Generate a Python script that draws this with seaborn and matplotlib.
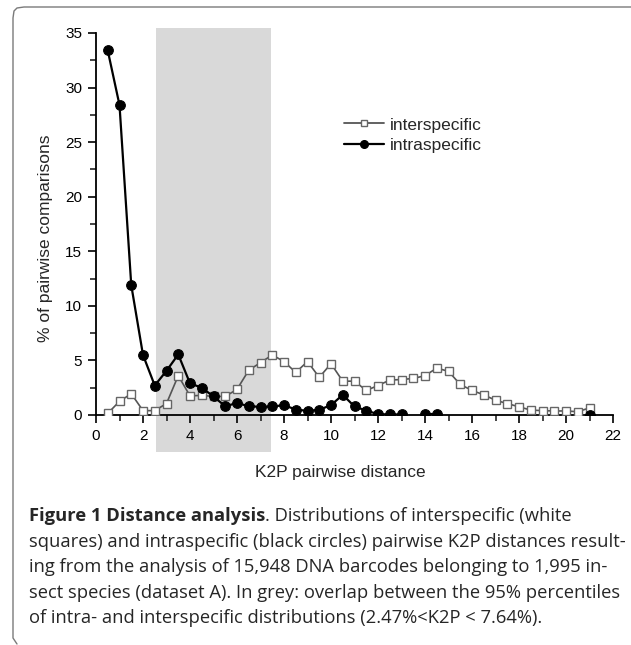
import numpy as np
import pandas as pd
import matplotlib
matplotlib.use("Agg")
import matplotlib.pyplot as plt
from matplotlib.lines import Line2D
from matplotlib.ticker import MultipleLocator
import seaborn as sns

# distances (K2P, %) and percentage of pairwise comparisons
inter_x = [0.5, 1.0, 1.5, 2.0, 2.5, 3.0, 3.5, 4.0, 4.5, 5.0, 5.5, 6.0, 6.5, 7.0,
           7.5, 8.0, 8.5, 9.0, 9.5, 10.0, 10.5, 11.0, 11.5, 12.0, 12.5, 13.0,
           13.5, 14.0, 14.5, 15.0, 15.5, 16.0, 16.5, 17.0, 17.5, 18.0, 18.5,
           19.0, 19.5, 20.0, 20.5, 21.0]
inter_y = [0.15, 1.25, 1.95, 0.4, 0.4, 1.05, 3.6, 1.75, 1.8, 1.7, 1.7, 2.35, 4.1, 4.8,
           5.5, 4.9, 3.9, 4.9, 3.45, 4.7, 3.1, 3.1, 2.25, 2.7, 3.2, 3.25,
           3.35, 3.6, 4.3, 4.0, 2.8, 2.25, 1.85, 1.35, 1.05, 0.75, 0.45,
           0.4, 0.37, 0.37, 0.3, 0.65]

intra_x = inter_x
intra_y = [33.4, 28.4, 11.9, 5.5, 2.7, 4.05, 5.55, 2.9, 2.5, 1.7, 0.8, 1.1, 0.8, 0.75,
           0.78, 0.9, 0.5, 0.38, 0.48, 0.9, 1.85, 0.78, 0.4, 0.08, 0.05, 0.05,
           None, 0.05, 0.05, None, None, None, None, None, None, None, None,
           None, None, None, None, 0.0]

overlap = (2.55, 7.45)

caption_bold = "Figure 1 Distance analysis"
caption_lines = [
    ". Distributions of interspecific (white",
    "squares) and intraspecific (black circles) pairwise K2P distances result-",
    "ing from the analysis of 15,948 DNA barcodes belonging to 1,995 in-",
    "sect species (dataset A). In grey: overlap between the 95% percentiles",
    "of intra- and interspecific distributions (2.47%<K2P < 7.64%).",
]

sns.set_style("ticks")
plt.rcParams['font.family'] = ['Liberation Sans', 'DejaVu Sans']

W, H = 631, 645
fig = plt.figure(figsize=(W / 100, H / 100), dpi=100)
ax = fig.add_axes([96 / W, 1 - 415 / H, (613 - 96) / W, (415 - 33) / H])

inter = pd.DataFrame({"x": inter_x, "y": inter_y})
intra = pd.DataFrame({"x": intra_x, "y": pd.to_numeric(pd.Series(intra_y), errors="coerce")})
intra["seg"] = intra["y"].isna().cumsum()
intra = intra.dropna()

ax.axvspan(*overlap, ymin=-0.097, ymax=1.013, color="#d9d9d9", lw=0,
           zorder=0, clip_on=False)

sns.lineplot(data=inter, x="x", y="y", ax=ax, color="#555555", lw=1.2,
             marker="s", markersize=6.2, markerfacecolor="white",
             markeredgecolor="#666666", markeredgewidth=1.0, legend=False,
             zorder=3)
sns.lineplot(data=intra, x="x", y="y", units="seg", estimator=None, ax=ax,
             color="black", lw=1.6, marker="o", markersize=7,
             markeredgecolor="black", legend=False, zorder=4)

ax.set_xlim(0, 22)
ax.set_ylim(0, 35)
ax.xaxis.set_major_locator(MultipleLocator(2))
ax.xaxis.set_minor_locator(MultipleLocator(1))
ax.yaxis.set_major_locator(MultipleLocator(5))
ax.yaxis.set_minor_locator(MultipleLocator(2.5))
ax.tick_params(which="major", length=6, width=1.2, labelsize=11, colors="black",
               direction="out", pad=4)
ax.tick_params(which="minor", length=4, width=1.2, direction="out")
for s in ["top", "right"]:
    ax.spines[s].set_visible(False)
for s in ["left", "bottom"]:
    ax.spines[s].set_linewidth(1.3)
    ax.spines[s].set_color("black")
ax.set_xlabel("")
ax.set_ylabel("")
ax.patch.set_alpha(0)

handles = [
    Line2D([], [], color="#555555", lw=1.3, marker="s", markersize=4.5,
           markerfacecolor="white", markeredgecolor="#666666"),
    Line2D([], [], color="black", lw=1.6, marker="o", markersize=5.5),
]
ax.legend(handles, ["interspecific", "intraspecific"], frameon=False,
          loc="upper left", bbox_to_anchor=(0.45, 0.82), fontsize=12.5,
          handlelength=2.3, handletextpad=0.3, labelspacing=0.3)

fig.text(340 / W, 1 - 472 / H, "K2P pairwise distance", ha="center", va="center",
         fontsize=12.5)
fig.text(46 / W, 1 - 238 / H, "% of pairwise comparisons", ha="center", va="center",
         rotation=90, fontsize=12.5)

# caption: size chosen so the 4th line spans about 591 px like the original
cap_font = ["Open Sans", "DejaVu Sans"]
renderer = fig.canvas.get_renderer()
probe = fig.text(0, 0, caption_lines[3], family=cap_font, fontsize=10)
probe_w = probe.get_window_extent(renderer=renderer).width
probe.remove()
cap_size = 10 * 591 / probe_w

x0 = 29 / W
ys = [516, 542, 567, 593, 618]
tb = fig.text(x0, 1 - ys[0] / H, caption_bold, fontweight="bold", family=cap_font,
              fontsize=cap_size, va="center", ha="left")
bb = tb.get_window_extent(renderer=renderer)
fig.text(bb.x1 / W, 1 - ys[0] / H, caption_lines[0], family=cap_font,
         fontsize=cap_size, va="center", ha="left")
for line, y in zip(caption_lines[1:], ys[1:]):
    fig.text(x0, 1 - y / H, line, family=cap_font, fontsize=cap_size,
             va="center", ha="left")

# frame on left and top with rounded corner
px = [17, 13, 13, 14, 17, 24, 631]
py = [644, 638, 18, 11, 8, 7, 7]
fig.add_artist(Line2D([p / W for p in px], [1 - p / H for p in py],
                      color="#7a7a7a", lw=1.0, transform=fig.transFigure))

fig.savefig("out.png", dpi=100)
